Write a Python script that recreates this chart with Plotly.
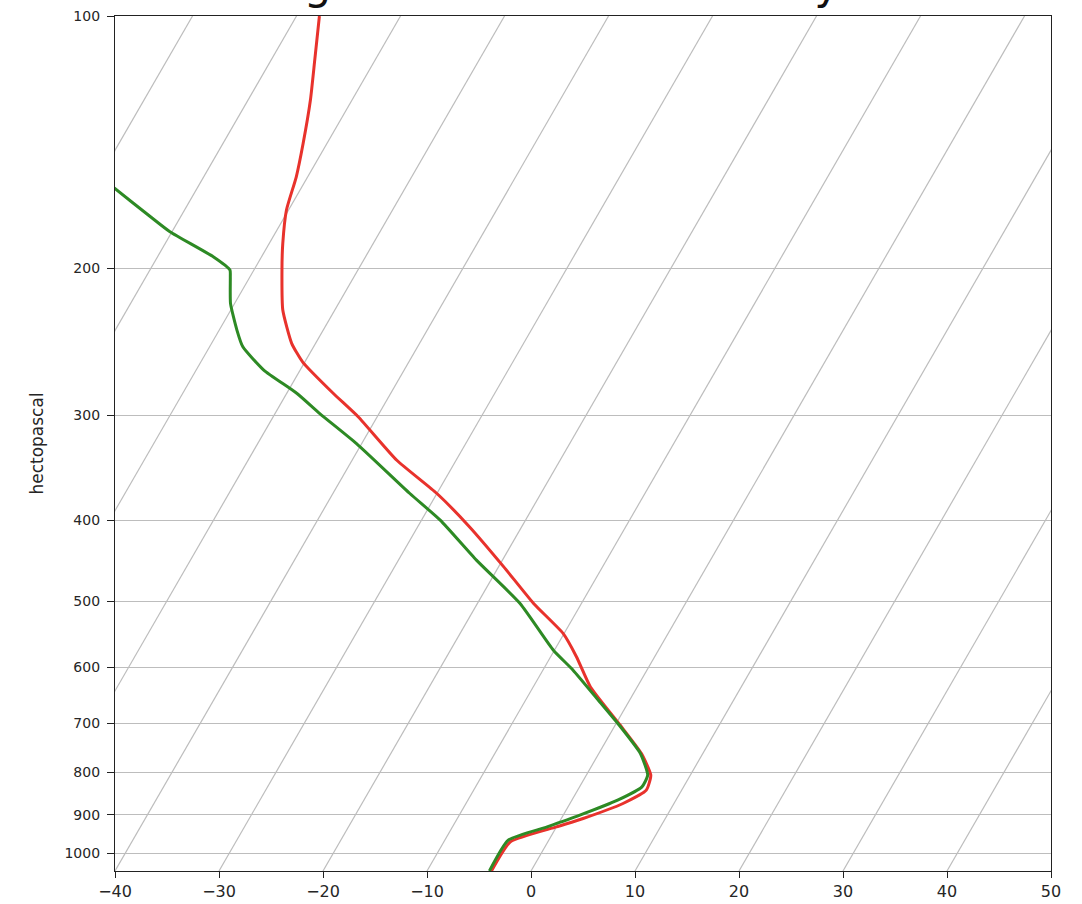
import numpy as np
import plotly.graph_objects as go

# Sounding profile: temperature (degC) vs pressure (hPa)
pressure_temp = [100, 112.9, 126.0, 141.9, 155.6, 170.5, 186.9, 201.1, 224.5, 246.0,
                 259.0, 282.4, 301.2, 339.3, 371.8, 407.6, 454.9, 503.1, 546.3, 582.8,
                 632.9, 703.3, 760.1, 806.8, 840.7, 872.1, 908.8, 930.0, 969.2, 1050]
temperature = [-67.8, -65.8, -64.0, -62.3, -61.1, -60.2, -58.7, -57.3, -55.0, -52.3,
               -50.2, -45.5, -41.8, -35.7, -30.0, -25.0, -19.5, -14.6, -10.1, -7.5,
               -4.5, 0.5, 4.1, 6.2, 6.6, 5.1, 2.1, 0.0, -3.6, -3.8]

# Dewpoint profile (degC) vs pressure (hPa)
pressure_dew = [148.6, 160.7, 173.7, 181.0, 194.0, 201.1, 204.8, 220.4, 237.2, 248.4,
                264.8, 282.4, 298.4, 324.1, 371.8, 400.1, 446.6, 503.1, 572.1, 604.4,
                656.5, 703.3, 760.1, 806.8, 833.2, 864.3, 900.6, 930.0, 964.7, 1050]
dewpoint = [-82.8, -77.9, -72.9, -70.2, -64.6, -62.3, -61.9, -60.4, -58.3, -56.8,
            -53.5, -49.0, -45.7, -40.5, -32.6, -28.2, -22.5, -15.9, -10.1, -7.1,
            -3.0, 0.4, 4.0, 5.9, 6.0, 4.4, 1.6, -0.9, -3.9, -4.0]

pressure_ticks = [100, 200, 300, 400, 500, 600, 700, 800, 900, 1000]
temp_ticks = [-40, -30, -20, -10, 0, 10, 20, 30, 40, 50]
isotherms = list(range(-100, 60, 10))

title_text = "Freezing Rain Threat Probability: 0.0000"

# Skew-T geometry: 30 degree skew of isotherms, expressed in degC per decade of pressure
P_BOTTOM, P_TOP = 1050.0, 100.0
T_MIN, T_MAX = -40, 50
SKEW = 46.47


def skew_x(t, p):
    t = np.asarray(t, dtype=float)
    p = np.asarray(p, dtype=float)
    return t + SKEW * np.log10(P_BOTTOM / p)


fig = go.Figure()

# Skewed isotherms
iso_p = np.array([P_BOTTOM, P_TOP])
for t in isotherms:
    fig.add_trace(go.Scatter(
        x=skew_x(np.full(2, t), iso_p), y=iso_p, mode="lines",
        line=dict(color="#bdbdbd", width=1.2), hoverinfo="skip", showlegend=False))

fig.add_trace(go.Scatter(
    x=skew_x(temperature, pressure_temp), y=pressure_temp, mode="lines",
    line=dict(color="#e8322c", width=3, shape="spline", smoothing=0.5),
    name="Temperature", showlegend=False))

fig.add_trace(go.Scatter(
    x=skew_x(dewpoint, pressure_dew), y=pressure_dew, mode="lines",
    line=dict(color="#2d8a24", width=3, shape="spline", smoothing=0.5),
    name="Dewpoint", showlegend=False))

axis_font = dict(family="DejaVu Sans", size=14, color="#262626")

fig.update_xaxes(
    range=[T_MIN, T_MAX], tickvals=temp_ticks,
    ticktext=[str(v).replace("-", "\u2212") for v in temp_ticks],
    showgrid=False, zeroline=False, automargin=False,
    showline=True, mirror=True, linecolor="#222222", linewidth=1.2,
    ticks="outside", ticklen=6, tickcolor="#222222", tickwidth=1,
    tickfont=dict(family="DejaVu Sans", size=16, color="#262626"))

fig.update_yaxes(
    type="log", range=[np.log10(P_BOTTOM), np.log10(P_TOP)],
    tickvals=pressure_ticks, ticktext=[str(v) for v in pressure_ticks],
    showgrid=True, gridcolor="#bdbdbd", gridwidth=1.2, zeroline=False, automargin=False,
    showline=True, mirror=True, linecolor="#222222", linewidth=1.2,
    ticks="outside", ticklen=7, tickcolor="#222222", tickwidth=1,
    ticklabelstandoff=4,
    tickfont=axis_font,
    title=dict(text="hectopascal", font=dict(family="DejaVu Sans", size=17, color="#262626"),
               standoff=16))

fig.add_annotation(
    text=title_text, xref="paper", yref="paper", x=0.5, y=1.0,
    xanchor="center", yanchor="bottom", yshift=5, showarrow=False,
    font=dict(family="DejaVu Sans", size=43.5, color="#111111"))

fig.update_layout(
    width=1082, height=904,
    margin=dict(l=115, r=31, t=16, b=33),
    plot_bgcolor="white", paper_bgcolor="white",
    showlegend=False)

fig.write_html("out.html")
